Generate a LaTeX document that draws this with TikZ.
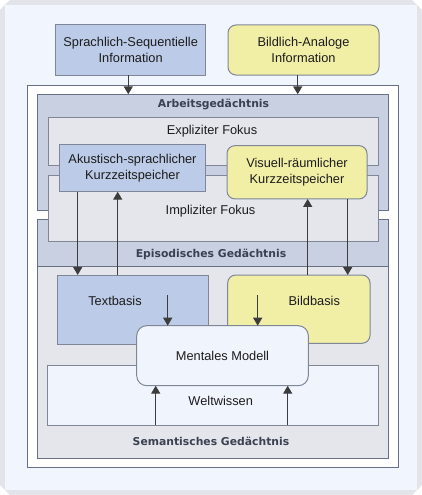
\documentclass[tikz,border=0pt]{standalone}
\usepackage{fontspec}
\setmainfont{Liberation Sans}
\newfontfamily\ttlfont{DejaVu Sans}
\usetikzlibrary{arrows.meta,calc}
\definecolor{outergray}{HTML}{E2E4E9}
\definecolor{panel}{HTML}{F0F5FE}
\definecolor{bluebox}{HTML}{BCCBE7}
\definecolor{yellowbox}{HTML}{F1EEA6}
\definecolor{regionblue}{HTML}{C8D0E1}
\definecolor{regiongray}{HTML}{E4E6EC}
\definecolor{lightbox}{HTML}{F0F4FC}
\definecolor{edge}{HTML}{7E8698}
\definecolor{darkedge}{HTML}{687086}
\definecolor{arrowc}{HTML}{3C3C3C}
\definecolor{titlec}{HTML}{3A4152}
\definecolor{txt}{HTML}{1C1C1C}
\begin{document}
\begin{tikzpicture}[x=1pt,y=-1pt,
  every node/.style={inner sep=0pt,outer sep=0pt,text=txt,align=center,
    font=\fontsize{12.8}{15.5}\selectfont},
  box/.style={draw=edge,line width=1pt},
  bluebx/.style={box,fill=bluebox},
  yellowbx/.style={box,fill=yellowbox,rounded corners=8pt},
  region/.style={draw=darkedge,line width=1pt},
  ttl/.style={font=\ttlfont\bfseries\fontsize{10.8}{13}\selectfont,text=titlec},
  arr/.style={draw=arrowc,line width=1.4pt,-{Triangle[width=9pt,length=8pt]}}]
\useasboundingbox (0,0) rectangle (422,495);
% background
\fill[white] (0,0) rectangle (422,495);
\fill[outergray] (10,0) -- (412,0) -- (422,10) -- (422,485) -- (412,495) -- (10,495) -- (0,485) -- (0,10) -- cycle;
\fill[panel] (5,5) rectangle (417,490);
% frame and regions
\node[draw=darkedge,line width=1pt,fill=white,minimum width=370.3pt,minimum height=382pt] (frame) at (212.85,276.7) {};
\node[region,fill=regionblue,minimum width=350.3pt,minimum height=115.7pt] (arb) at (212.85,152.15) {};
\node[region,fill=regionblue,minimum width=350.3pt,minimum height=47pt] (epi) at (212.85,242.5) {};
\node[region,fill=regiongray,minimum width=350.3pt,minimum height=192pt] (sem) at (212.85,362) {};
\node[box,fill=regiongray,minimum width=330pt,minimum height=47.7pt] (expl) at (213.3,141.15) {};
\node[box,fill=regiongray,minimum width=330pt,minimum height=66.7pt] (impl) at (213.3,208.35) {};
% top inputs
\node[bluebx,minimum width=150pt,minimum height=50pt] (sprach) at (130.7,50) {Sprachlich-Sequentielle\\Information};
\node[yellowbx,minimum width=151pt,minimum height=50pt] (bild) at (303.5,50) {Bildlich-Analoge\\Information};
% short-term stores
\node[bluebx,minimum width=146.4pt,minimum height=47.4pt] (akust) at (132.5,168) {Akustisch-sprachlicher\\Kurzzeitspeicher};
\node[yellowbx,minimum width=140pt,minimum height=53.3pt] (visuell) at (297,172.3) {Visuell-r\"aumlicher\\Kurzzeitspeicher};
% bases
\node[bluebx,minimum width=150.6pt,minimum height=69pt] (textb) at (133,309.5) {};
\node[yellowbx,minimum width=142.3pt,minimum height=68.3pt] (bildb) at (298.85,309.15) {};
\node[box,fill=lightbox,minimum width=330.6pt,minimum height=59.3pt] (welt) at (213,395.35) {};
\node[box,fill=lightbox,rounded corners=10pt,minimum width=171.6pt,minimum height=60pt] (mental) at (222.5,355.7) {Mentales Modell};
% labels
\node[ttl] (arblbl) at (213.5,104.6) {Arbeitsged\"achtnis};
\node (expllbl) at (212,131) {Expliziter Fokus};
\node (impllbl) at (210.5,211) {Impliziter Fokus};
\node[ttl] (epilbl) at (211,254.7) {Episodisches Ged\"achtnis};
\node[ttl] (semlbl) at (211,441.3) {Semantisches Ged\"achtnis};
\node (textblbl) at (115,301) {Textbasis};
\node (bildblbl) at (314.3,301) {Bildbasis};
\node (weltlbl) at (220.7,401) {Weltwissen};
% x positions of connectors
\coordinate (xa) at (128.3,0);
\coordinate (xb) at (297.7,0);
\coordinate (xc) at (77.7,0);
\coordinate (xd) at (117.7,0);
\coordinate (xe) at (307.7,0);
\coordinate (xf) at (347.7,0);
\coordinate (xg) at (155.7,0);
\coordinate (xh) at (287.7,0);
\coordinate (ta) at (167.7,295);
\coordinate (tb) at (257.7,295);
% connectors
\draw[arr] (sprach.south -| xa) -- (arb.north -| xa);
\draw[arr] (bild.south -| xb) -- (arb.north -| xb);
\draw[arr] (akust.south -| xc) -- (textb.north -| xc);
\draw[arr] (textb.north -| xd) -- (akust.south -| xd);
\draw[arr] (bildb.north -| xe) -- (visuell.south -| xe);
\draw[arr] (visuell.south -| xf) -- (bildb.north -| xf);
\draw[arr] (ta) -- (mental.north -| ta);
\draw[arr] (tb) -- (mental.north -| tb);
\draw[arr] (welt.south -| xg) -- (mental.south -| xg);
\draw[arr] (welt.south -| xh) -- (mental.south -| xh);
\end{tikzpicture}
\end{document}
